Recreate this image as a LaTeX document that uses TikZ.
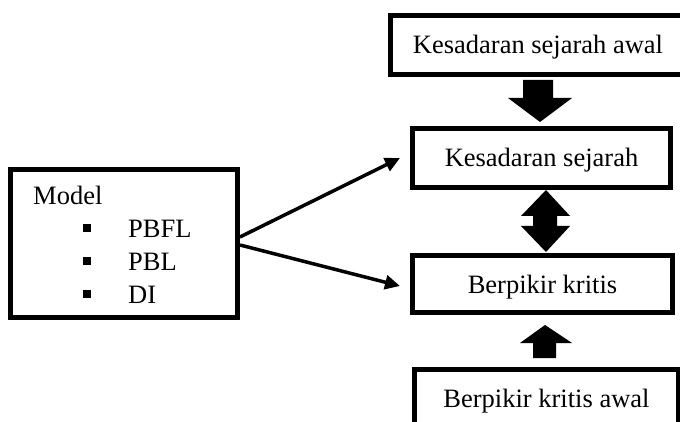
\documentclass[tikz,border=0pt]{standalone}
\usepackage{fontspec}
\setmainfont{Liberation Serif}
\usetikzlibrary{arrows.meta}
\begin{document}
\begin{tikzpicture}[x=1pt,y=-1pt,
  box/.style={draw=black,line width=5pt,fill=white,inner sep=0pt,
    text height=18pt,text depth=0pt,font=\fontsize{26.5}{30}\selectfont},
  lbl/.style={anchor=base west,inner sep=0pt,font=\fontsize{26.5}{30}\selectfont},
  bulletsq/.style={fill=black,minimum size=8pt,inner sep=0pt},
  link/.style={line width=3.5pt,-{Triangle[length=15pt,width=14pt]}},
  blockarrow/.style={fill=black,draw=none}]
\useasboundingbox (0,0) rectangle (680,422);
\clip (0,0) rectangle (680,422);
\fill[white] (0,0) rectangle (680,422);
% boxes
\node[box,minimum width=295pt,minimum height=59pt] (ka) at (538,45) {Kesadaran sejarah awal};
\node[box,minimum width=258pt,minimum height=59pt] (ks) at (541.5,158) {Kesadaran sejarah};
\node[box,minimum width=260pt,minimum height=57pt] (bk) at (542.5,284) {Berpikir kritis};
\node[box,minimum width=264pt,minimum height=57pt] (ba) at (546.5,398) {Berpikir kritis awal};
\node[draw=black,line width=5pt,minimum width=227pt,minimum height=148pt,inner sep=0pt] (m) at (124,243.5) {};
% left box content
\node[lbl] (tm) at (33,205) {Model};
\node[bulletsq] (s1) at (87,228) {};
\node[bulletsq] (s2) at (87,261) {};
\node[bulletsq] (s3) at (87,294) {};
\node[lbl] (t1) at (128,237) {PBFL};
\node[lbl] (t2) at (128,270) {PBL};
\node[lbl] (t3) at (128,303) {DI};
% connectors
\draw[link] ([yshift=6.5pt]m.east) -- ([xshift=-10pt]ks.west);
\draw[link] ([yshift=-1.5pt]m.east) -- ([xshift=-10pt,yshift=-2pt]bk.west);
% block arrows
\fill[blockarrow] (523,80) -- (553,80) -- (553,98) -- (572,98) -- (540,122) -- (508,98) -- (523,98) -- cycle;
\fill[blockarrow] (546,190) -- (570,216) -- (557,216) -- (557,226) -- (570,226) -- (546,252) -- (521,226) -- (533,226) -- (533,216) -- (521,216) -- cycle;
\fill[blockarrow] (545,325) -- (572,343) -- (556,343) -- (556,358) -- (533,358) -- (533,343) -- (520,343) -- cycle;
\end{tikzpicture}
\end{document}
